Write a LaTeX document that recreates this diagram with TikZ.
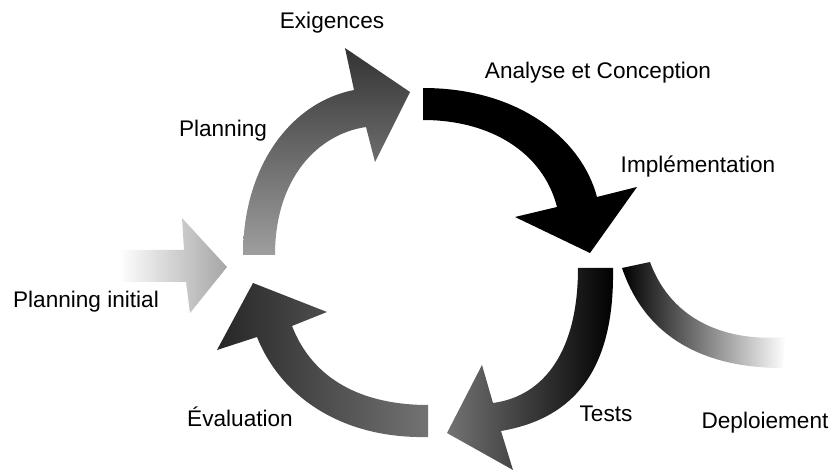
\documentclass[tikz,border=0pt]{standalone}
\usepackage{fontspec}
\setmainfont{Liberation Sans}

\begin{document}
\begin{tikzpicture}[x=0.5pt,y=-0.5pt,
    steplabel/.style={font=\fontsize{11.3}{13}\selectfont,inner sep=0pt}]
    \useasboundingbox (0,0) rectangle (832,476);

    \shade[left color=white,right color=black!35] (118,250) -- (184,250) -- (182,218) -- (227,267) -- (190,313) -- (186,282) -- (118,282) -- cycle;

    \shade[bottom color=black!38,top color=black!80] (243,255) .. controls (243,165) and (292,102) .. (354,90) -- (345,48) -- (410,92) -- (375,162) -- (366,127) .. controls (318,134) and (275,178) .. (275,255) -- cycle;

    \fill[black] (423,88) .. controls (520,88) and (582,140) .. (597,197) -- (637,187) -- (590,253) -- (515,217) -- (557,207) .. controls (543,152) and (490,120) .. (423,120) -- cycle;

    \shade[left color=black!55,right color=black] (578,268) -- (613,268) .. controls (615,380) and (565,420) .. (501,431) -- (513,470) -- (447,433) -- (482,365) -- (493,403) .. controls (545,396) and (578,350) .. (578,268) -- cycle;

    \shade[left color=black!85,right color=black!55] (428,405) -- (428,437) .. controls (340,439) and (280,395) .. (257,337) -- (217,350) -- (253,283) -- (327,312) -- (292,326) .. controls (315,385) and (370,405) .. (428,405) -- cycle;

    \shade[left color=black,middle color=black!80,right color=white] (622,268) .. controls (648,345) and (715,368) .. (782,368) -- (786,337) .. controls (728,342) and (672,322) .. (650,262) -- cycle;

    \node[steplabel] at (332,23) (exig) {Exigences};
    \node[steplabel] at (598,73) (anal) {Analyse et Conception};
    \node[steplabel] at (223,131) (plan) {Planning};
    \node[steplabel] at (698,167) (impl) {Implémentation};
    \node[steplabel] at (86,302) (init) {Planning initial};
    \node[steplabel] at (240,417) (eval) {Évaluation};
    \node[steplabel] at (606,414) (tests) {Tests};
    \node[steplabel] at (765,423) (depl) {Deploiement};
\end{tikzpicture}
\end{document}
